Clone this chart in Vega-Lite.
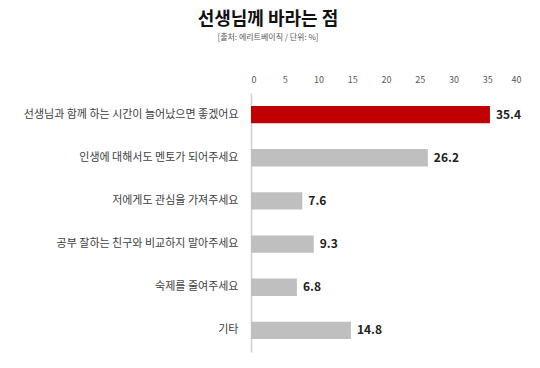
{
  "$schema": "https://vega.github.io/schema/vega-lite/v6.json",
  "width": 270,
  "height": 259,
  "autosize": "none",
  "padding": {"left": 251, "top": 93, "right": 19, "bottom": 16},
  "background": "white",
  "title": {
    "text": "선생님께 바라는 점",
    "subtitle": "[출처: 에리트베이직 / 단위: %]",
    "font": "Noto Sans CJK KR",
    "fontSize": 18,
    "fontWeight": "bold",
    "color": "#111111",
    "subtitleFont": "Noto Sans CJK KR",
    "subtitleFontSize": 8,
    "subtitleColor": "#555555",
    "subtitlePadding": 5,
    "anchor": "middle",
    "frame": "group",
    "dx": -118,
    "offset": 33
  },
  "config": {"view": {"stroke": null}},
  "data": {
    "values": [
      {"item": "선생님과 함께 하는 시간이 늘어났으면 좋겠어요", "value": 35.4, "hl": "y"},
      {"item": "인생에 대해서도 멘토가 되어주세요", "value": 26.2, "hl": "n"},
      {"item": "저에게도 관심을 가져주세요", "value": 7.6, "hl": "n"},
      {"item": "공부 잘하는 친구와 비교하지 말아주세요", "value": 9.3, "hl": "n"},
      {"item": "숙제를 줄여주세요", "value": 6.8, "hl": "n"},
      {"item": "기타", "value": 14.8, "hl": "n"}
    ]
  },
  "encoding": {
    "y": {
      "field": "item",
      "type": "nominal",
      "sort": null,
      "scale": {"paddingInner": 0.6, "paddingOuter": 0.3},
      "axis": {
        "title": null,
        "ticks": false,
        "labelPadding": 13,
        "labelFont": "Noto Sans CJK KR",
        "labelFontSize": 11,
        "labelColor": "#404040",
        "labelLimit": 260,
        "domainColor": "#d0d0d0",
        "domainWidth": 1.5
      }
    },
    "x": {
      "field": "value",
      "type": "quantitative",
      "scale": {"domain": [0, 40], "nice": false},
      "axis": {
        "orient": "top",
        "title": null,
        "grid": false,
        "domain": false,
        "ticks": false,
        "values": [0, 5, 10, 15, 20, 25, 30, 35, 40],
        "labelPadding": 9,
        "labelFont": "Noto Sans CJK KR",
        "labelFontSize": 9,
        "labelColor": "#595959"
      }
    }
  },
  "layer": [
    {
      "mark": {"type": "bar"},
      "encoding": {
        "color": {
          "field": "hl",
          "type": "nominal",
          "scale": {"domain": ["y", "n"], "range": ["#C00000", "#BFBFBF"]},
          "legend": null
        }
      }
    },
    {
      "mark": {"type": "text", "align": "left", "dx": 6, "font": "Noto Sans CJK KR", "fontSize": 12, "fontWeight": "bold", "color": "#222222"},
      "encoding": {"text": {"field": "value", "type": "quantitative", "format": ".1f"}}
    }
  ]
}
